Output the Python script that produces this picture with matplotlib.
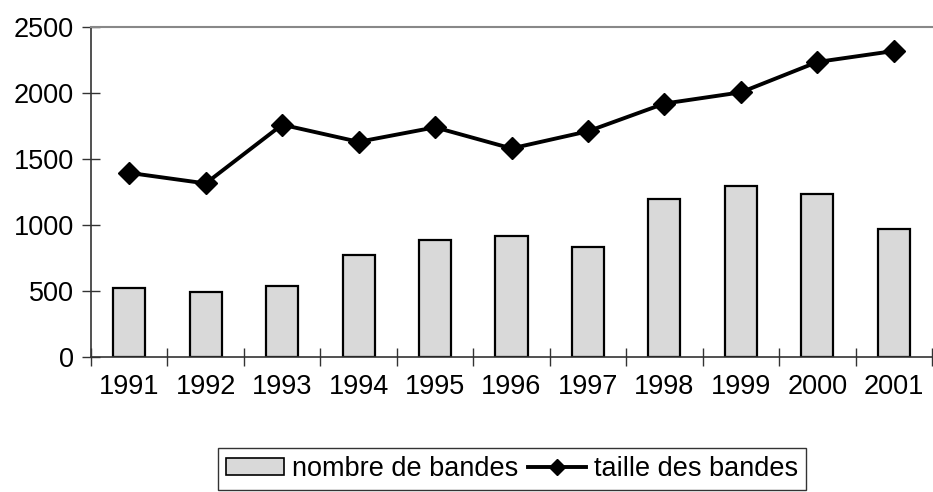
import matplotlib
matplotlib.use("Agg")
import matplotlib.pyplot as plt
import numpy as np
from matplotlib.ticker import FixedLocator, NullFormatter
from matplotlib.lines import Line2D
from matplotlib.patches import Patch

years = ["1991", "1992", "1993", "1994", "1995", "1996", "1997", "1998", "1999", "2000", "2001"]
nombre_bandes = [525, 490, 540, 770, 885, 920, 835, 1200, 1295, 1235, 970]
taille_bandes = [1395, 1315, 1760, 1630, 1740, 1580, 1710, 1920, 2005, 2235, 2318]

plt.rcParams['font.family'] = ['Liberation Sans', 'DejaVu Sans']
FS = 19.5

fig = plt.figure(figsize=(9.33, 4.92), dpi=100)
ax = fig.add_axes([91/933, (492-357)/492, (932-91)/933, (357-27)/492])

x = np.arange(len(years))
bars = ax.bar(x, nombre_bandes, width=0.42, color='#d9d9d9', edgecolor='black',
              linewidth=1.6, label='nombre de bandes', zorder=2)
line, = ax.plot(x, taille_bandes, color='black', linewidth=2.8, marker='D',
                markersize=11.5, label='taille des bandes', zorder=3)

ax.set_xlim(-0.5, len(years) - 0.5)
ax.set_ylim(0, 2500)
ax.set_yticks([0, 500, 1000, 1500, 2000, 2500])
ax.set_xticks(x)
ax.set_xticklabels(years)
ax.xaxis.set_minor_locator(FixedLocator(np.arange(-0.5, len(years) + 0.5, 1.0)))
ax.xaxis.set_minor_formatter(NullFormatter())
ax.tick_params(axis='x', which='major', length=0, pad=12, labelsize=FS)
ax.tick_params(axis='x', which='minor', direction='inout', length=13, width=1, color='#333333')
ax.tick_params(axis='y', direction='inout', length=13, width=1, color='#333333', pad=6, labelsize=FS)

ax.spines['right'].set_visible(False)
ax.spines['top'].set_color('#888888')
ax.spines['top'].set_linewidth(1.5)
for s in ['left', 'bottom']:
    ax.spines[s].set_color('#333333')
    ax.spines[s].set_linewidth(1.2)

h_bar = Patch(facecolor='#d9d9d9', edgecolor='black', linewidth=1.2, label='nombre de bandes')
h_line = Line2D([], [], color='black', linewidth=2.8, marker='D', markersize=8, label='taille des bandes')
leg = fig.legend(handles=[h_bar, h_line], loc='lower center', bbox_to_anchor=(512/933, -0.012),
                 ncol=2, frameon=True, fancybox=False, fontsize=FS, handlelength=2.15,
                 handletextpad=0.3, columnspacing=0.35, borderpad=0.3, handleheight=0.6,
                 borderaxespad=0.3)
leg.get_frame().set_edgecolor('black')
leg.get_frame().set_linewidth(1.0)

fig.savefig("out.png", dpi=100)
